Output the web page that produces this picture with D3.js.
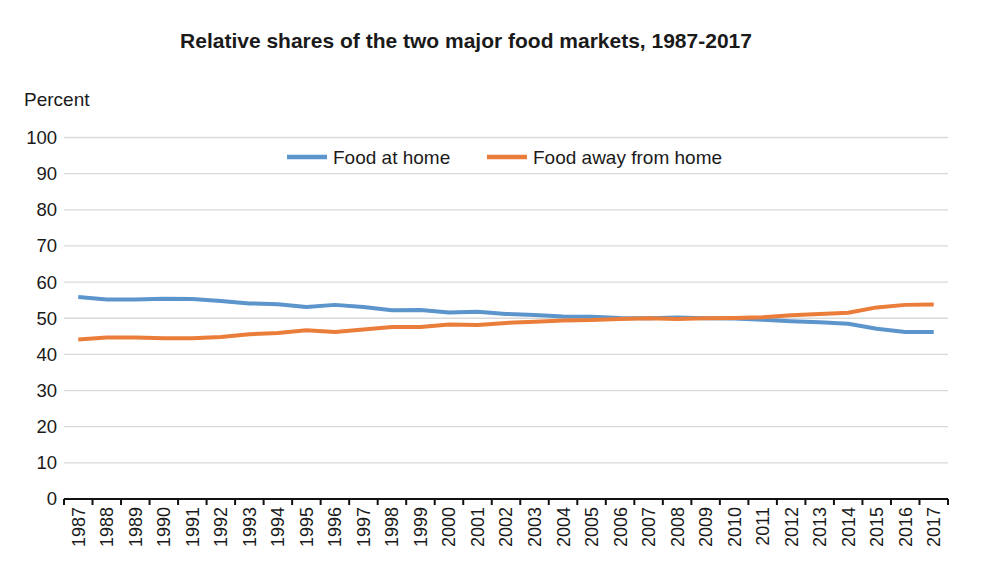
<!DOCTYPE html>
<html>
<head>
<meta charset="utf-8">
<script src="https://cdn.jsdelivr.net/npm/d3@7"></script>
<style>
  body { margin: 0; background: #fff; }
  text { font-family: "Liberation Sans", Arial, sans-serif; fill: #1a1a1a; }
</style>
</head>
<body>
<svg id="chart" width="1001" height="580"></svg>
<script>
'use strict';

// data
const years = d3.range(1987, 2018).map(String);
const foodAtHome = [55.9, 55.2, 55.2, 55.4, 55.3, 54.8, 54.1, 53.9, 53.1, 53.7, 53.1, 52.2, 52.3, 51.6, 51.8,
    51.2, 50.9, 50.5, 50.4, 50.1, 50.0, 50.2, 50.0, 49.9, 49.6, 49.2, 48.9, 48.5, 47.1, 46.2, 46.2];
const foodAwayFromHome = [44.1, 44.7, 44.7, 44.5, 44.5, 44.8, 45.6, 45.9, 46.7, 46.2, 46.9, 47.6, 47.6, 48.3, 48.1,
    48.7, 49.0, 49.4, 49.5, 49.8, 50.0, 49.8, 50.0, 50.1, 50.3, 50.8, 51.2, 51.5, 53.0, 53.7, 53.8];
const yTicks = [0, 10, 20, 30, 40, 50, 60, 70, 80, 90, 100];

const series = [
    {name: 'Food at home', values: foodAtHome, color: '#5b95cc'},
    {name: 'Food away from home', values: foodAwayFromHome, color: '#eb7d3a'}
];

const svg = d3.select('#chart');
const margin = {left: 64, right: 53, top: 137.5, bottom: 81};
const width = 1001, height = 580;

const x = d3.scaleBand()
    .domain(years)
    .range([margin.left, width - margin.right]);

const y = d3.scaleLinear()
    .domain([0, 100])
    .range([height - margin.bottom, margin.top]);

// title
svg.append('text')
    .attr('x', 466)
    .attr('y', 48)
    .attr('text-anchor', 'middle')
    .style('font-size', '21px')
    .style('font-weight', 'bold')
    .text('Relative shares of the two major food markets, 1987-2017');

svg.append('text')
    .attr('x', 24)
    .attr('y', 106)
    .style('font-size', '19px')
    .text('Percent');

// gridlines
svg.append('g')
    .selectAll('line')
    .data(yTicks.filter(d => d > 0))
    .enter()
    .append('line')
        .attr('x1', margin.left)
        .attr('x2', width - margin.right)
        .attr('y1', d => y(d))
        .attr('y2', d => y(d))
        .style('stroke', '#d9d9d9')
        .style('stroke-width', 1.3);

// y labels
svg.append('g')
    .selectAll('text')
    .data(yTicks)
    .enter()
    .append('text')
        .attr('x', 57)
        .attr('y', d => y(d))
        .attr('dy', '0.35em')
        .attr('text-anchor', 'end')
        .style('font-size', '18.5px')
        .text(d => d);

// x axis
const xAxis = svg.append('g')
    .attr('transform', `translate(0, ${y(0)})`);

xAxis.append('line')
    .attr('x1', margin.left)
    .attr('x2', width - margin.right)
    .style('stroke', '#111')
    .style('stroke-width', 2);

xAxis.selectAll('.tick')
    .data(years.concat(['end']))
    .enter()
    .append('line')
        .attr('class', 'tick')
        .attr('x1', (d, i) => margin.left + i * x.step())
        .attr('x2', (d, i) => margin.left + i * x.step())
        .attr('y1', 0)
        .attr('y2', 6)
        .style('stroke', '#111')
        .style('stroke-width', 2);

xAxis.selectAll('.year')
    .data(years)
    .enter()
    .append('text')
        .attr('class', 'year')
        .attr('transform', d => `translate(${x(d) + x.bandwidth() / 2}, 8) rotate(-90)`)
        .attr('dy', '0.36em')
        .attr('text-anchor', 'end')
        .style('font-size', '18px')
        .text(d => d);

// lines
const line = d3.line()
    .x((d, i) => x(years[i]) + x.bandwidth() / 2)
    .y(d => y(d));

svg.append('g')
    .selectAll('path')
    .data(series)
    .enter()
    .append('path')
        .attr('d', d => line(d.values))
        .style('fill', 'none')
        .style('stroke', d => d.color)
        .style('stroke-width', 4)
        .style('stroke-linejoin', 'round');

// legend
const legend = svg.append('g')
    .selectAll('g')
    .data(series)
    .enter()
    .append('g')
        .attr('transform', (d, i) => `translate(${i == 0 ? 287 : 487}, 157)`);

legend.append('line')
    .attr('x1', 0)
    .attr('x2', 40)
    .style('stroke', d => d.color)
    .style('stroke-width', 4.5);

legend.append('text')
    .attr('x', 46)
    .attr('dy', '0.35em')
    .style('font-size', '19px')
    .text(d => d.name);
</script>
</body>
</html>
